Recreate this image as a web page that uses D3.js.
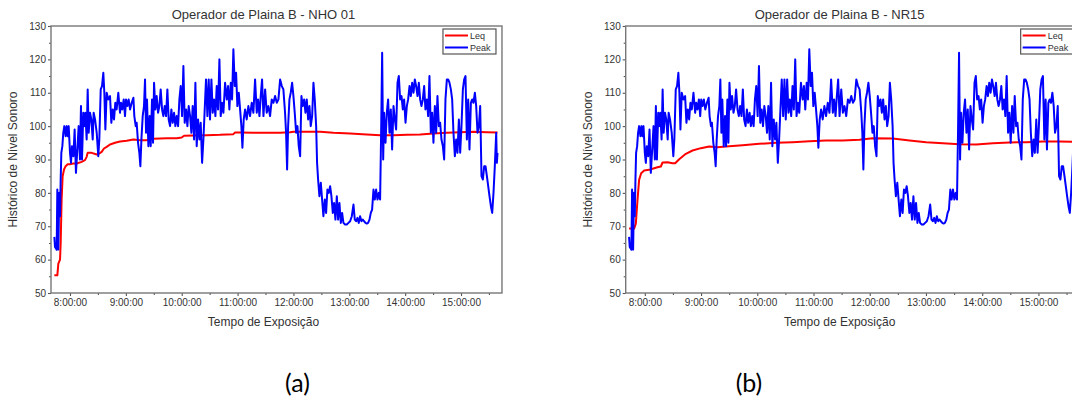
<!DOCTYPE html>
<html><head><meta charset="utf-8">
<script src="https://cdn.jsdelivr.net/npm/d3@7"></script>
<style>body{margin:0;background:#fff}svg{display:block}</style>
</head><body>
<svg id="c" width="1072" height="403"></svg>
<script>
// ---- data (time in minutes after midnight, level in dB) ----
const peakMin = [463.2,463.9,465.7,466.4,467.5,468.5,469.3,470.0,470.7,471.8,472.8,473.9,475.3,476.4,477.5,478.6,480,481.1,482.1,483.6,485.0,486.4,487.9,489.3,490.7,491.8,492.9,494.3,495.4,496.5,497.9,499.0,500.1,501.5,502.9,504.4,505.4,506.9,508.7,510.4,511.5,513.0,514.4,515.8,516.9,518.0,519.4,521.2,523.0,524.4,525.9,527.3,528.7,530.1,531.9,533.7,534.8,536.2,537.7,539.1,540.2,541.6,543.0,544.5,546.3,548.1,549.1,550.6,551.6,553.1,554.5,555.6,556.7,558.1,559.5,560.6,561.7,562.7,564.2,565.6,566.7,568.1,569.2,570.3,571.7,573.1,574.6,576.0,577.4,578.9,580.3,581.7,583.2,584.6,586.0,587.5,588.9,590.3,591.8,593.2,594.6,596.1,597.5,598.9,600.4,601.8,603.2,604.7,606.1,607.5,609.0,610.4,611.8,613.3,614.7,616.1,617.6,619.0,620.4,621.9,623.3,624.7,626.1,627.6,629.0,630.4,631.9,633.3,634.7,636.2,637.6,639.0,640.5,641.9,643.3,644.8,646.6,648.4,649.8,651.2,652.7,654.1,655.5,657.0,658.4,659.8,661.3,662.7,664.1,665.2,666.6,668.1,669.8,671.6,673.4,675.2,677.0,678.8,680.6,682.0,683.5,684.9,686.3,687.8,689.6,691.3,693.1,694.9,696.7,698.5,700.3,702.1,703.9,705.7,707.5,709.2,711.0,712.1,713.2,714.3,715.7,717.1,718.6,720.0,721.4,722.9,724.3,725.7,727.2,728.6,730.0,731.5,732.9,734.3,735.8,737.2,738.6,740.1,741.5,742.9,744.4,745.4,746.5,747.9,749.4,750.8,752.2,753.7,755.1,756.5,758.0,759.4,760.8,762.3,763.7,765.1,766.6,768.0,769.4,770.9,772.3,773.7,775.5,777.3,779.1,780.9,782.7,784.5,785.9,787.3,788.8,790.2,791.6,793.1,794.5,795.9,797.4,798.8,800.2,801.7,803.1,804.5,806.0,807.4,808.8,810.3,811.7,813.1,814.2,815.3,816.4,817.4,818.9,820.3,821.7,823.2,824.6,826.0,827.5,828.9,830.3,831.8,833.2,834.6,836.1,837.5,838.9,840.4,841.8,843.2,844.7,846.1,847.5,849.0,850.4,851.8,853.3,854.7,856.1,857.5,859.0,860.4,861.8,863.3,864.7,866.1,867.6,869.0,870.4,871.9,873.3,874.7,876.2,877.6,879.0,880.5,881.9,883.3,884.8,886.2,887.6,889.1,890.5,891.9,893.4,894.8,896.2,897.7,899.1,900.5,902.0,903.4,904.8,906.3,907.7,909.1,910.6,912.0,913.4,914.9,916.3,917.7,919.2,920.6,922.0,923.5,924.9,926.3,927.8,929.2,930.6,932.1,933.5,934.9,936.3,937.8,938.5,939.2];
const peakDb = [66.8,63.8,63,81,63,80,73,84,92,94,98,100,97,100,97,100,92,89,94,91,99,86,93,100,90,106,90,104,100,104,96,111,98,104,102,96,104,102,98,91,96,111,112,116,110,99,110,108,109,101,105,102,107,105,110,104,107,105,108,103,108,106,108,105,107,108.5,103,100,101,95,92,88,96,103,106,114,98,108,94,103,94,108,95,113,105,109,104,106,111,105,103,106,103,111,102,100,105,101,104,100,103,100,108,112,103,118,101,105,100,106,103,98,106,96,113,94,102,96,101,89,96,105,114,103,114,102,114,104,108,103,112,105,120,103,107,104,113,108,112,105,113,108,123,112,116,106,110,105,100,93.5,102,105,102,106,103,107,104,114,104,108,103,109,114,103,111,104,106,103,108,107,109,107,108,114,112,111,104,98,87,100,108,110,113,109,104,98,100,94,91,109,106,108,104,108,102,106,100,103,113,108,100,89,84,79,83,78,73,78,74,81,80,82,79,74,77,72,79,72,77,71,74,71,70.5,70.5,71,71.5,73,76.5,72,71.5,72.5,71,73,71.5,72,71.5,71,70.8,71,72,74,75,81,78,81,78,80,78,98,122,90,104,95,104,108,98,105,93,106,102,99,113,115,108,109,105,108,101,106,108,112,109,113,110,114,112,109,113,108,106,108,112,105,108,103,115,98,104,95,106,98,109,100,101,96,94,90,108,114,114,113,111,108,98,91,96,92,102,92,100,111,114,115,96,108,93,107,108,107,110,106,98,100,106,85,84,88,88,85,82,79,76,74,80,88,98,89,92];
const leqNhoMin = [463.2,466.4,467.5,469.3,470.0,471.0,472.1,473.6,475.3,477.5,480,483.6,487.2,492.5,496.1,497.9,499.0,503.3,508.7,511.5,514.0,516.5,519.4,523.0,528.4,533.7,540.9,548.1,555.2,562.4,569.6,576.7,583.9,594.6,600.0,602.5,612.5,626.9,641.2,655.5,657.3,662.7,677.0,691.3,705.7,716.4,720.0,734.3,748.7,763.0,780.9,798.8,813.1,827.5,841.8,856.1,870.4,884.8,898.9,913.4,927.8,939.2];
const leqNhoDb = [55.3,55.3,58.8,60,65,78,85,87,88,88.6,88.6,88.8,88.8,89.3,89.8,90.8,92,92,91.5,91.8,92.3,93.3,93.8,94.5,95,95.4,95.6,96,95.8,95.8,96.2,96.3,96.4,96.4,96.6,97.1,97.2,97.3,97.4,97.6,98.1,98.1,98,98,98,98.2,98.3,98.3,98.3,98,97.8,97.5,97.3,97.3,97.4,97.5,97.8,98,98.2,98.3,98.2,98.1];
const leqNrMin = [463.2,468.6,470.4,472.2,473.9,476.1,479.3,484.6,490.0,493.5,497.1,498.9,504.2,509.6,512.4,516.7,523.8,530.9,539.8,548.7,557.6,566.5,584.3,602.1,619.9,637.8,655.6,673.4,691.2,709.0,723.2,744.6,762.4,780.2,798.0,815.8,833.6,851.4,869.2,887.0,904.8,922.6,939.2];
const leqNrDb = [69.3,69.3,70.8,77.9,83.9,85.9,86.7,86.9,87.4,87.7,87.9,89.1,89.2,88.9,88.9,90.1,91.7,92.7,93.4,93.9,93.7,93.9,94.3,94.7,95,95.2,95.5,95.7,95.7,95.9,96.4,96.3,95.7,95.2,94.9,94.6,94.5,94.9,95.1,95.2,95.4,95.4,95.3];
const xTickMin = [480,540,600,660,720,780,840,900];
const xTickLabels = ["8:00:00","9:00:00","10:00:00","11:00:00","12:00:00","13:00:00","14:00:00","15:00:00"];
const xMinorMin = [510,570,630,690,750,810,870,930];
const yTicks = [50,60,70,80,90,100,110,120,130];
const yMinor = [55,65,75,85,95,105,115,125];
const seriesNames = ["Leq","Peak"];
const titles = ["Operador de Plaina B - NHO 01","Operador de Plaina B - NR15"];
const captions = ["(a)","(b)"];

const svg = d3.select('#c');
const FONT = "'Liberation Sans', Arial, sans-serif";
const TXT = "#333";

function drawChart(idx, leqMin, leqDb, left, pxPerHour, capX){
  const x0 = left, x1 = left + (944 - 459.6) / 60 * pxPerHour;
  const y0 = 26, y1 = 293;
  const x = d3.scaleLinear().domain([459.6, 944]).range([x0, x1]);
  const y = d3.scaleLinear().domain([50, 130]).range([y1, y0]);
  const g = svg.append('g');
  const cid = 'clip' + idx;
  g.append('clipPath').attr('id', cid).append('rect')
    .attr('x', x0).attr('y', y0).attr('width', x1 - x0).attr('height', y1 - y0);

  const styleAxis = a => {
    a.select('.domain').remove();
    a.selectAll('line').attr('stroke', '#555').attr('stroke-width', 1.1);
    a.selectAll('text').attr('font-family', FONT).attr('font-size', 10).attr('fill', TXT);
  };
  g.append('g').attr('transform', `translate(0,${y1})`)
    .call(d3.axisBottom(x).tickValues(xTickMin).tickSize(3).tickPadding(3)
      .tickFormat((d, i) => xTickLabels[i])).call(styleAxis);
  g.append('g').attr('transform', `translate(0,${y1})`)
    .call(d3.axisBottom(x).tickValues(xMinorMin).tickSize(2).tickFormat('')).call(styleAxis);
  g.append('g').attr('transform', `translate(${x0},0)`)
    .call(d3.axisLeft(y).tickValues(yTicks).tickSize(3).tickPadding(2)).call(styleAxis);
  g.append('g').attr('transform', `translate(${x0},0)`)
    .call(d3.axisLeft(y).tickValues(yMinor).tickSize(2).tickFormat('')).call(styleAxis);

  const line = d3.line().x(d => x(d[0])).y(d => y(d[1]));
  const lg = g.append('g').attr('clip-path', `url(#${cid})`);
  lg.append('path').datum(leqMin.map((t, i) => [t, leqDb[i]]))
    .attr('d', line).attr('fill', 'none').attr('stroke', '#ff0000').attr('stroke-width', 2)
    .attr('stroke-linejoin', 'round');
  lg.append('path').datum(peakMin.map((t, i) => [t, peakDb[i]]))
    .attr('d', line).attr('fill', 'none').attr('stroke', '#0000ff').attr('stroke-width', 2)
    .attr('stroke-linejoin', 'round');

  g.append('rect').attr('x', x0).attr('y', y0).attr('width', x1 - x0).attr('height', y1 - y0)
    .attr('fill', 'none').attr('stroke', '#777').attr('stroke-width', 1.4);

  const lx = x1 - 59, ly = 29;
  g.append('rect').attr('x', lx).attr('y', ly).attr('width', 53).attr('height', 25)
    .attr('fill', '#fff').attr('stroke', '#555').attr('stroke-width', 1.2);
  const cols = ['#ff0000', '#0000ff'];
  seriesNames.forEach((n, i) => {
    const yy = ly + 6.5 + i * 12;
    g.append('line').attr('x1', lx + 2).attr('x2', lx + 25).attr('y1', yy).attr('y2', yy)
      .attr('stroke', cols[i]).attr('stroke-width', 2);
    g.append('text').attr('x', lx + 27).attr('y', yy + 3).text(n)
      .attr('font-family', FONT).attr('font-size', 9).attr('fill', TXT);
  });

  const cx = x(480) + (x(900) - x(480)) / 2 - 2;
  g.append('text').attr('x', cx).attr('y', 19).attr('text-anchor', 'middle')
    .attr('font-family', FONT).attr('font-size', 13).attr('fill', TXT).text(titles[idx]);
  g.append('text').attr('x', cx).attr('y', 326).attr('text-anchor', 'middle')
    .attr('font-family', FONT).attr('font-size', 12).attr('fill', TXT).text('Tempo de Exposição');
  g.append('text').attr('transform', `translate(${x0 - 34},${(y0 + y1) / 2}) rotate(-90)`)
    .attr('text-anchor', 'middle').attr('font-family', FONT).attr('font-size', 12)
    .attr('fill', TXT).text('Histórico de Nível Sonoro');
  svg.append('text').attr('x', capX).attr('y', 392).attr('text-anchor', 'middle')
    .attr('font-family', "Lato, 'Open Sans', sans-serif").attr('font-size', 25)
    .attr('fill', '#000').text(captions[idx]);
}

drawChart(0, leqNhoMin, leqNhoDb, 51, 55.86, 297.5);
drawChart(1, leqNrMin, leqNrDb, 625.7, 56.23, 749);
</script>
</body></html>
